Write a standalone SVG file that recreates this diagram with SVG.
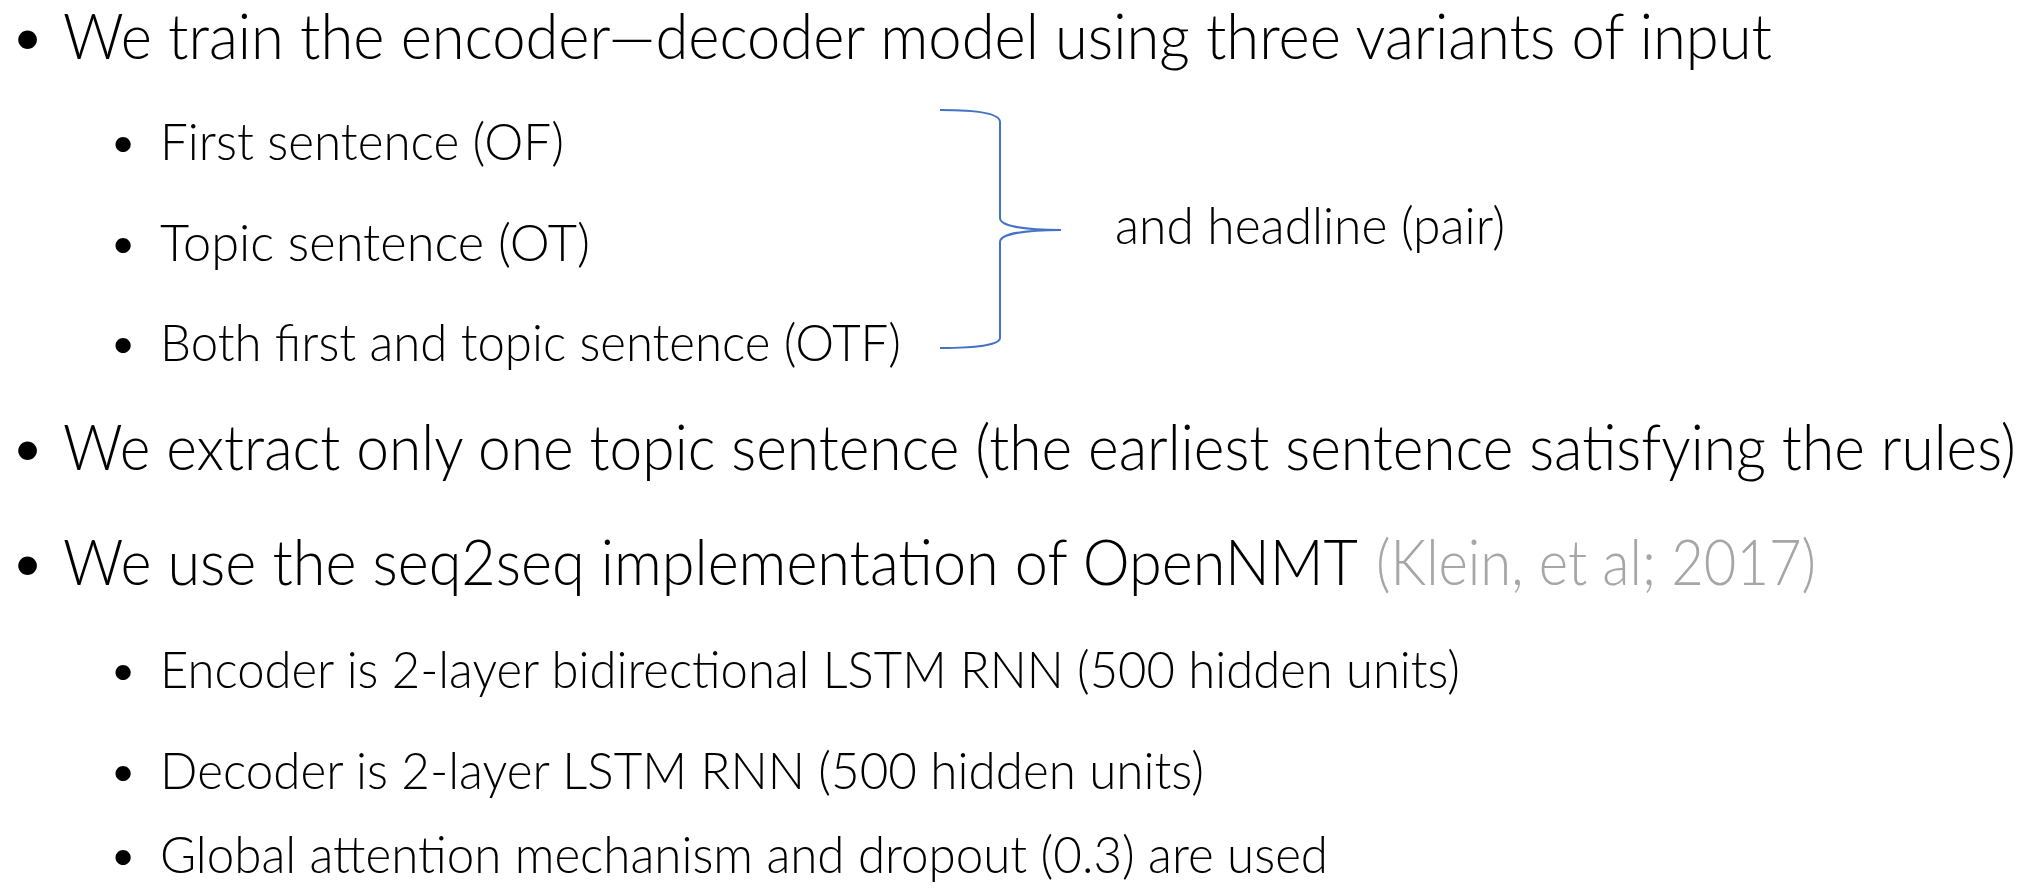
<svg xmlns="http://www.w3.org/2000/svg" width="2024" height="892" viewBox="0 0 2024 892">
<style>
text{font-family:Lato,"Open Sans","Liberation Sans",sans-serif;font-weight:300;fill:#000}
.l1{font-size:64px}
.l2{font-size:52px}
.g{fill:#a6a6a6}
.brace{fill:none;stroke:#4472c4;stroke-width:2}
</style>
<rect width="2024" height="892" fill="#fff"/>
<g id="b1"><text class="l1" x="9" y="59">•</text><text class="l1" x="63" y="59" textLength="1709" lengthAdjust="spacingAndGlyphs">We train the encoder—decoder model using three variants of input</text></g>
<g id="s1"><text class="l2" x="108" y="160">•</text><text class="l2" x="160" y="160" textLength="404" lengthAdjust="spacingAndGlyphs">First sentence (OF)</text></g>
<g id="s2"><text class="l2" x="108" y="261">•</text><text class="l2" x="160" y="261" textLength="430" lengthAdjust="spacingAndGlyphs">Topic sentence (OT)</text></g>
<g id="s3"><text class="l2" x="108" y="361">•</text><text class="l2" x="160" y="361" textLength="741" lengthAdjust="spacingAndGlyphs">Both first and topic sentence (OTF)</text></g>
<g id="brace"><path class="brace" d="M940,110 C975,110 1000,113 1000,122 L1000,218 C1000,226 1025,230 1061,230 C1025,230 1000,234 1000,242 L1000,338 C1000,345 975,348 940,348"/></g>
<g id="pair"><text class="l2" x="1115" y="244" textLength="390" lengthAdjust="spacingAndGlyphs">and headline (pair)</text></g>
<g id="b2"><text class="l1" x="9" y="470">•</text><text class="l1" x="63" y="470" textLength="1953" lengthAdjust="spacingAndGlyphs">We extract only one topic sentence (the earliest sentence satisfying the rules)</text></g>
<g id="b3"><text class="l1" x="9" y="585">•</text><text class="l1" x="63" y="585" textLength="1295" lengthAdjust="spacingAndGlyphs">We use the seq2seq implementation of OpenNMT</text><text class="l1 g" x="1376" y="585" textLength="440" lengthAdjust="spacingAndGlyphs">(Klein, et al; 2017)</text></g>
<g id="s4"><text class="l2" x="108" y="688">•</text><text class="l2" x="160" y="688" textLength="1300" lengthAdjust="spacingAndGlyphs">Encoder is 2-layer bidirectional LSTM RNN (500 hidden units)</text></g>
<g id="s5"><text class="l2" x="108" y="789">•</text><text class="l2" x="160" y="789" textLength="1044" lengthAdjust="spacingAndGlyphs">Decoder is 2-layer LSTM RNN (500 hidden units)</text></g>
<g id="s6"><text class="l2" x="108" y="873">•</text><text class="l2" x="160" y="873" textLength="1168" lengthAdjust="spacingAndGlyphs">Global attention mechanism and dropout (0.3) are used</text></g>
</svg>
